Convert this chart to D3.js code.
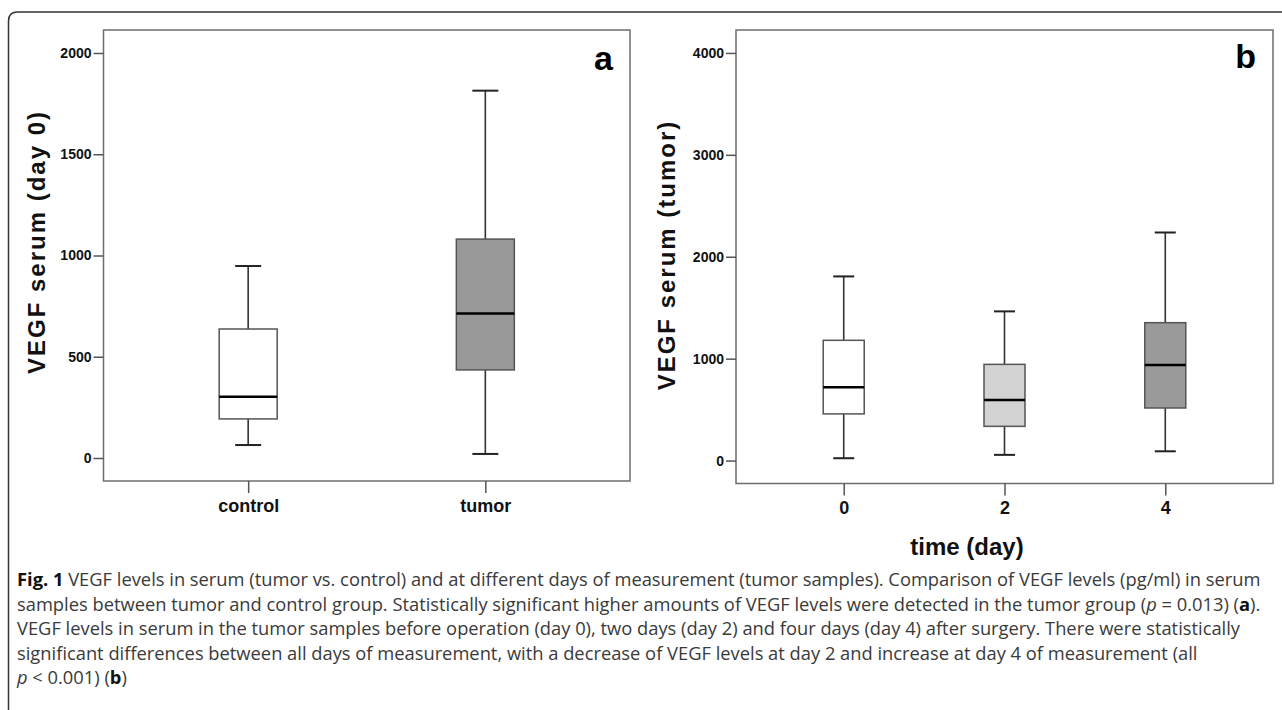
<!DOCTYPE html>
<html>
<head>
<meta charset="utf-8">
<script src="https://cdn.jsdelivr.net/npm/d3@7"></script>
<style>
  body { margin: 0; background: #fff; }
  svg { display: block; }
  .tick text { font-family: "Liberation Sans", Arial, sans-serif; font-weight: bold; fill: #111; }
  .caption { font-family: "Open Sans", "Noto Sans", sans-serif; fill: #3a3a3a; }
</style>
</head>
<body>
<div id="chart"></div>
<script>
// panel a: serum day 0, control vs tumor
var groupsA = ["control", "tumor"];
var lowA = [64, 20];
var q1A = [193, 435];
var medA = [303, 714];
var q3A = [637, 1081];
var highA = [948, 1814];
var ticksA = [0, 500, 1000, 1500, 2000];

// panel b: tumor serum by day
var groupsB = ["0", "2", "4"];
var lowB = [23, 56, 91];
var q1B = [458, 336, 516];
var medB = [719, 595, 938];
var q3B = [1180, 944, 1353];
var highB = [1807, 1464, 2238];
var ticksB = [0, 1000, 2000, 3000, 4000];

var captionLines = [
    [["b", "Fig. 1"], ["n", " VEGF levels in serum (tumor vs. control) and at different days of measurement (tumor samples). Comparison of VEGF levels (pg/ml) in serum"]],
    [["n", "samples between tumor and control group. Statistically significant higher amounts of VEGF levels were detected in the tumor group ("], ["i", "p"], ["n", " = 0.013) ("], ["b", "a"], ["n", ")."]],
    [["n", "VEGF levels in serum in the tumor samples before operation (day 0), two days (day 2) and four days (day 4) after surgery. There were statistically"]],
    [["n", "significant differences between all days of measurement, with a decrease of VEGF levels at day 2 and increase at day 4 of measurement (all"]],
    [["i", "p"], ["n", " < 0.001) ("], ["b", "b"], ["n", ")"]]
];

var svgWidth = 1282;
var svgHeight = 710;

var svg = d3.select("#chart")
    .append("svg")
    .attr("width", svgWidth)
    .attr("height", svgHeight);

// outer frame: left + top edge with rounded corner
svg.append("path")
    .attr("d", "M8.5,710 L8.5,21 Q8.5,12 17.5,12 L1282,12")
    .attr("fill", "none")
    .attr("stroke", "#333")
    .attr("stroke-width", 1.5);

function drawPanel(p) {
    var g = svg.append("g");

    var x = d3.scalePoint()
        .domain(p.groups)
        .range([p.left, p.right])
        .padding(p.pad);

    var y = d3.scaleLinear()
        .domain(p.domain)
        .range([p.bottom, p.top]);

    var rows = p.groups.map(function (k, i) {
        return { key: k, low: p.low[i], q1: p.q1[i], med: p.med[i], q3: p.q3[i], high: p.high[i], fill: p.fills[i] };
    });

    // plot frame
    g.append("rect")
        .attr("x", p.left)
        .attr("y", p.top)
        .attr("width", p.right - p.left)
        .attr("height", p.bottom - p.top)
        .attr("fill", "none")
        .attr("stroke", "#6e6e6e")
        .attr("stroke-width", 1.5);

    // y axis
    var yAxis = g.append("g")
        .attr("transform", `translate(${p.left},0)`)
        .call(d3.axisLeft(y).tickValues(p.ticks).tickSize(10).tickPadding(2).tickFormat(d3.format("d")));
    yAxis.select(".domain").remove();
    yAxis.selectAll(".tick line").attr("stroke", "#555").attr("stroke-width", 1.5);
    yAxis.selectAll(".tick text").style("font-size", "14px");

    // x axis
    var xAxis = g.append("g")
        .attr("transform", `translate(0,${p.bottom})`)
        .call(d3.axisBottom(x).tickSize(12).tickPadding(6));
    xAxis.select(".domain").remove();
    xAxis.selectAll(".tick line").attr("stroke", "#555").attr("stroke-width", 1.5);
    xAxis.selectAll(".tick text").style("font-size", "18px");

    var box = g.selectAll(".box")
        .data(rows)
        .enter()
        .append("g")
        .attr("class", "box");

    // whiskers
    box.append("line")
        .attr("x1", d => x(d.key))
        .attr("x2", d => x(d.key))
        .attr("y1", d => y(d.high))
        .attr("y2", d => y(d.low))
        .attr("stroke", "#333")
        .attr("stroke-width", 1.6);
    box.selectAll(".cap")
        .data(d => [d.low, d.high].map(v => ({ key: d.key, v: v })))
        .enter()
        .append("line")
        .attr("x1", d => x(d.key) - p.capW / 2)
        .attr("x2", d => x(d.key) + p.capW / 2)
        .attr("y1", d => y(d.v))
        .attr("y2", d => y(d.v))
        .attr("stroke", "#222")
        .attr("stroke-width", 2);

    // boxes
    box.append("rect")
        .attr("x", d => x(d.key) - p.boxW / 2)
        .attr("width", p.boxW)
        .attr("y", d => y(d.q3))
        .attr("height", d => y(d.q1) - y(d.q3))
        .attr("fill", d => d.fill)
        .attr("stroke", "#555")
        .attr("stroke-width", 1.5);

    // medians
    box.append("line")
        .attr("x1", d => x(d.key) - p.boxW / 2)
        .attr("x2", d => x(d.key) + p.boxW / 2)
        .attr("y1", d => y(d.med))
        .attr("y2", d => y(d.med))
        .attr("stroke", "#000")
        .attr("stroke-width", 2.5);

    // y title
    svg.append("text")
        .attr("transform", `translate(${p.titleX},${p.titleY}) rotate(-90)`)
        .attr("text-anchor", "middle")
        .style("font-family", "Liberation Sans, Arial, sans-serif")
        .style("font-weight", "bold")
        .style("font-size", "24px")
        .style("letter-spacing", "2px")
        .attr("fill", "#111")
        .text(p.yTitle);

    // panel letter
    svg.append("text")
        .attr("x", p.letterX)
        .attr("y", p.letterY)
        .attr("text-anchor", "end")
        .style("font-family", "Liberation Sans, Arial, sans-serif")
        .style("font-weight", "bold")
        .style("font-size", "34px")
        .attr("fill", "#000")
        .text(p.letter);
}

drawPanel({
    groups: groupsA, low: lowA, q1: q1A, med: medA, q3: q3A, high: highA, ticks: ticksA,
    fills: ["#ffffff", "#999999"],
    left: 103.5, right: 630, top: 30, bottom: 481, pad: 0.61,
    domain: [-113.6, 2113.6],
    boxW: 58, capW: 26,
    yTitle: "VEGF serum (day 0)", titleX: 45, titleY: 242,
    letter: "a", letterX: 613, letterY: 70
});

drawPanel({
    groups: groupsB, low: lowB, q1: q1B, med: medB, q3: q3B, high: highB, ticks: ticksB,
    fills: ["#ffffff", "#d3d3d3", "#9a9a9a"],
    left: 736, right: 1273, top: 30, bottom: 483.5, pad: 0.67,
    domain: [-225, 4225],
    boxW: 41, capW: 21,
    yTitle: "VEGF serum (tumor)", titleX: 675, titleY: 255,
    letter: "b", letterX: 1256, letterY: 68
});

// x title for panel b
svg.append("text")
    .attr("x", 967)
    .attr("y", 555)
    .attr("text-anchor", "middle")
    .style("font-family", "Liberation Sans, Arial, sans-serif")
    .style("font-weight", "bold")
    .style("font-size", "24px")
    .attr("fill", "#111")
    .text("time (day)");

// caption
var cap = svg.append("g").attr("class", "caption");
var lines = cap.selectAll("text")
    .data(captionLines)
    .enter()
    .append("text")
    .attr("x", 17)
    .attr("y", (d, i) => 586 + i * 24.5)
    .style("font-size", "16px");
lines.selectAll("tspan")
    .data(d => d)
    .enter()
    .append("tspan")
    .style("font-weight", d => d[0] === "b" ? "bold" : null)
    .style("font-style", d => d[0] === "i" ? "italic" : null)
    .attr("fill", d => d[0] === "b" ? "#111" : null)
    .text(d => d[1]);

// fit the first caption line to the width measured on the reference
var w0 = lines.node().getComputedTextLength();
var fs = 16 * (1261 - 17) / w0;
lines.style("font-size", fs + "px");
</script>
</body>
</html>
